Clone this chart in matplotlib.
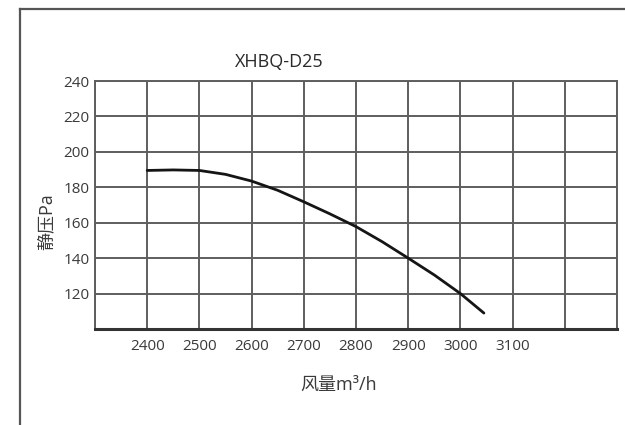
import matplotlib
matplotlib.use("Agg")
import matplotlib.pyplot as plt
from matplotlib.lines import Line2D
from matplotlib.ticker import FixedLocator, FuncFormatter

plt.rcParams['font.family'] = ['Open Sans', 'Noto Sans CJK SC', 'DejaVu Sans']

# Fan performance curve: airflow (m³/h) vs static pressure (Pa)
airflow = [2400, 2450, 2500, 2550, 2600, 2650, 2700, 2750, 2800, 2850, 2900, 2950, 3000, 3045]
pressure = [189.5, 189.8, 189.5, 187.3, 183.5, 178.3, 171.8, 165, 157.8, 149.3, 140, 130.5, 120, 109]

x_labeled = [2400, 2500, 2600, 2700, 2800, 2900, 3000, 3100]
y_labeled = [120, 140, 160, 180, 200, 220, 240]
x_grid = [2300, 2400, 2500, 2600, 2700, 2800, 2900, 3000, 3100, 3200, 3300]
y_grid = [100, 120, 140, 160, 180, 200, 220, 240]

title = "XHBQ-D25"
xlabel = "风量m³/h"
ylabel = "静压Pa"

W, H = 625, 425
fig = plt.figure(figsize=(W / 100, H / 100), dpi=100)
fig.patch.set_facecolor("white")

left, right, top, bottom = 95, 617, 81, 329
ax = fig.add_axes([left / W, 1 - bottom / H, (right - left) / W, (bottom - top) / H])
ax.set_xlim(2300, 3300)
ax.set_ylim(100, 240)

grid_color = "#5e5e5e"
for gx in x_grid:
    ax.axvline(gx, color=grid_color, lw=1.4, zorder=1)
for gy in y_grid:
    ax.axhline(gy, color=grid_color, lw=1.4, zorder=1)

for side in ("top", "right", "left"):
    ax.spines[side].set_color(grid_color)
    ax.spines[side].set_linewidth(1.4)
ax.spines["bottom"].set_color("#333333")
ax.spines["bottom"].set_linewidth(2.2)

ax.xaxis.set_major_locator(FixedLocator(x_labeled))
ax.yaxis.set_major_locator(FixedLocator(y_labeled))
ax.xaxis.set_major_formatter(FuncFormatter(lambda v, p: f"{int(v)}"))
ax.yaxis.set_major_formatter(FuncFormatter(lambda v, p: f"{int(v)}"))
ax.tick_params(axis="both", length=0, labelsize=11, labelcolor="#3a3a3a")
ax.tick_params(axis="x", pad=7)
ax.tick_params(axis="y", pad=4)

ax.plot(airflow, pressure, color="#151515", lw=2.0, solid_capstyle="round", zorder=3)

fig.text(279 / W, 1 - 62 / H, title, ha="center", va="center", fontsize=13, color="#2a2a2a")
fig.text(339 / W, 1 - 385 / H, xlabel, ha="center", va="center", fontsize=13, color="#3a3a3a")
fig.text(46 / W, 1 - 222 / H, ylabel, ha="center", va="center", fontsize=13,
         color="#3a3a3a", rotation=90)

# Outer frame around the chart
fig.add_artist(Line2D([20 / W, 20 / W], [0, 1 - 9 / H], transform=fig.transFigure,
                      color="#555555", lw=1.6))
fig.add_artist(Line2D([20 / W, 1], [1 - 9 / H, 1 - 9 / H], transform=fig.transFigure,
                      color="#555555", lw=1.6))

fig.savefig("out.png", dpi=100)
